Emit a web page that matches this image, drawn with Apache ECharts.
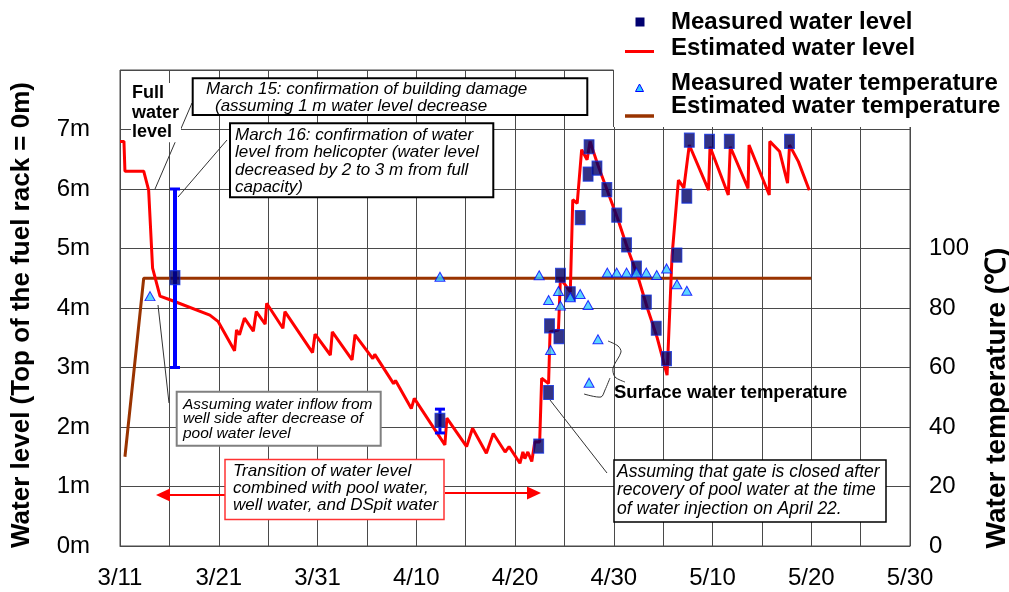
<!DOCTYPE html>
<html><head><meta charset="utf-8">
<script src="https://cdn.jsdelivr.net/npm/echarts@6/dist/echarts.min.js"></script>
<style>html,body{margin:0;padding:0;background:#fff}#c{width:1009px;height:592px}</style>
</head><body><div id="c"></div>
<script>
// x values are days after 3/11
const dayLabels = ['3/11','3/21','3/31','4/10','4/20','4/30','5/10','5/20','5/30'];
const estLevel = [
[0,6.8],[0.4,6.8],[0.5,6.3],[2.4,6.3],[2.9,5.98],[3.3,4.67],[4.05,4.2],[5.2,4.13],[9.1,3.88],[9.95,3.77],
[11.6,3.28],[11.8,3.63],[12.1,3.55],[12.6,3.83],[13.5,3.61],[13.8,3.94],[14.7,3.73],[14.85,4.08],[16.5,3.66],[16.7,3.94],
[19.5,3.25],[19.75,3.56],[21.3,3.21],[21.5,3.6],[23.5,3.13],[23.8,3.55],[25.6,3.15],[25.8,3.22],[27.7,2.73],[27.9,2.78],
[29.5,2.31],[29.8,2.48],[32.9,1.7],[33.1,2.15],[35.1,1.67],[35.7,1.98],[37.1,1.56],[37.8,1.89],[39.0,1.58],[39.4,1.67],
[40.5,1.39],[40.8,1.58],[41.0,1.47],[41.3,1.58],[41.7,1.42],[42.0,1.75],[42.5,1.75],[42.7,2.82],[43.4,2.73],[43.55,3.6],
[44.4,3.63],[44.6,4.5],[45.6,4.27],[45.85,5.82],[46.3,5.76],[46.75,6.66],[47.3,6.49],[47.6,6.8],[48.4,6.4],[49.4,5.95],
[50.4,5.5],[51.4,5.0],[52.4,4.55],[53.4,4.0],[54.4,3.5],[55.4,2.87],[55.9,4.87],[56.55,6.15],[57.1,6.02],[57.65,6.74],
[59.6,5.98],[59.75,6.71],[61.6,5.9],[61.8,6.71],[63.6,6.01],[63.7,6.74],[65.75,5.9],[65.8,6.8],[66.8,6.63],[67.6,6.1],
[67.8,6.74],[68.7,6.46],[69.8,5.98]
];
const measLevel = [
[5.57,4.51],[32.4,2.11],[42.4,1.68],[43.4,2.58],[43.5,3.7],[44.45,3.52],[44.6,4.55],[45.6,4.24],[46.6,5.52],[47.4,6.25],
[47.5,6.71],[48.3,6.35],[49.3,5.99],[50.3,5.56],[51.3,5.06],[52.3,4.67],[53.3,4.1],[54.3,3.66],[55.35,3.15],[56.4,4.89],
[57.4,5.88],[57.65,6.82],[59.7,6.8],[61.7,6.8],[67.8,6.8]
];
const levelRanges = [[5.57,3.0,6.0],[32.4,1.9,2.3]];
const measTemp = [
[3.04,84],[32.4,90.5],[42.45,91],[43.4,82.7],[43.6,65.9],[44.4,85.7],[44.6,80.8],[45.6,83.6],[46.6,84.7],[47.4,81.0],
[47.5,54.9],[48.4,69.5],[49.35,91.9],[50.3,91.9],[51.3,91.9],[52.3,91.9],[53.3,91.9],[54.35,91.1],[55.35,93.3],[56.4,88.0],
[57.4,85.8]
];
const estTemp = [[0.5,30],[2.4,90],[70,90]];

const FF = '"Liberation Sans", Arial, Helvetica, sans-serif';
const GRID = '#4a4a4a';
const chart = echarts.init(document.getElementById('c'), null, {renderer:'canvas'});

function line(x1,y1,x2,y2,color,w,z){return {type:'line',z:z||60,shape:{x1,y1,x2,y2},style:{stroke:color||'#333',lineWidth:w||1}};}
function txt(x,y,t,font,extra){return Object.assign({type:'text',z:70,x:x,y:y,style:Object.assign({text:t,font:font,fill:'#000',verticalAlign:'middle',align:'left'},extra||{})});}
function box(x,y,w,h,stroke,lw){return {type:'rect',z:65,shape:{x,y,width:w,height:h},style:{fill:'#fff',stroke:stroke,lineWidth:lw}};}

const IT17 = 'italic 17px '+FF;
const graphics = [
  // legend area
  {type:'rect',z:50,shape:{x:613.5,y:0,width:400,height:127},style:{fill:'#fff'}},
  line(613.5,70,613.5,127,GRID,1,51),
  {type:'rect',z:60,shape:{x:635.5,y:17.5,width:9,height:9},style:{fill:'#000070'}},
  txt(671,22,'Measured water level','bold 24px '+FF),
  line(625,51.5,654,51.5,'#ff0000',3),
  txt(671,48,'Estimated water level','bold 24px '+FF),
  {type:'polygon',z:60,shape:{points:[[639.5,84],[643.5,91.5],[635.5,91.5]]},style:{fill:'#33ccff',stroke:'#0000ff',lineWidth:1}},
  txt(671,83,'Measured water temperature','bold 24px '+FF),
  line(625,116,654,116,'#993300',3.5),
  txt(671,106,'Estimated water temperature','bold 24px '+FF),
  // full water level
  line(192,103,155,189,'#333',1,55),
  txt(131,83,'Full\nwater\nlevel','bold 18px '+FF,{verticalAlign:'top',lineHeight:19.75,backgroundColor:'#fff',padding:[0,2,0,1]}),
  line(133,141,179,141,'#000',1.5),
  // March 15
  box(192.7,78.3,394.6,36.7,'#000',2),
  txt(206,89.5,'March 15: confirmation of building damage',IT17),
  txt(215,106.5,'(assuming 1 m water level decrease',IT17),
  // March 16
  line(227,140,178,197,'#333',1,55),
  box(230,123.3,263.3,74,'#000',2),
  txt(235,126.3,'March 16: confirmation of water\nlevel from helicopter (water level\ndecreased by 2 to 3 m from full\ncapacity)',IT17,{verticalAlign:'top',lineHeight:17.4}),
  // inflow
  line(158,305,169,403,'#333',1,55),
  box(176.7,391.7,204,54,'#808080',2),
  txt(183,397,'Assuming water inflow from\nwell side after decrease of\npool water level','italic 15.5px '+FF,{verticalAlign:'top',lineHeight:14.5}),
  // transition
  box(225,459.5,219,60,'#ff3333',1.5),
  txt(233,462.5,'Transition of water level\ncombined with pool water,\nwell water, and DSpit water',IT17,{verticalAlign:'top',lineHeight:17.2}),
  line(225,495,168,495,'#ff0000',2),
  {type:'polygon',z:60,shape:{points:[[156,495],[170,488.5],[170,501.5]]},style:{fill:'#ff0000'}},
  line(445,493,529,493,'#ff0000',2),
  {type:'polygon',z:60,shape:{points:[[541,493],[527,486.5],[527,499.5]]},style:{fill:'#ff0000'}},
  // surface water temperature
  txt(614,393,'Surface water temperature','bold 18.5px '+FF),
  {type:'polyline',z:60,shape:{points:[[608,341],[618,346],[621,352],[613,368],[615,377],[625,382]],smooth:0.3},style:{stroke:'#333',lineWidth:1,fill:null}},
  {type:'polyline',z:60,shape:{points:[[610,378],[605,390],[601,397],[584,394]],smooth:0.3},style:{stroke:'#333',lineWidth:1,fill:null}},
  // gate
  line(550,400,607,473,'#333',1,55),
  box(614,460,272,62,'#000',1.5),
  txt(617,463,'Assuming that gate is closed after\nrecovery of pool water at the time\nof water injection on April 22.','italic 17.5px '+FF,{verticalAlign:'top',lineHeight:18.3}),
  // axis titles
  {type:'text',z:70,x:22,y:315,rotation:Math.PI/2,style:{text:'Water level (Top of the fuel rack = 0m)',font:'bold 26px '+FF,fill:'#000',align:'center',verticalAlign:'middle'}},
  {type:'text',z:70,x:997,y:398,rotation:Math.PI/2,style:{text:'Water temperature (\u2103)',font:'bold 28px '+FF,fill:'#000',align:'center',verticalAlign:'middle'}}
];

chart.setOption({
  animation:false,
  backgroundColor:'#fff',
  grid:{left:120,right:99,top:70,bottom:46,show:true,borderColor:GRID,borderWidth:1},
  xAxis:{type:'value',min:0,max:80,interval:5,
    axisLine:{show:true,lineStyle:{color:GRID,width:1}},axisTick:{show:false},
    splitLine:{show:true,lineStyle:{color:GRID,width:1}},
    axisLabel:{fontSize:24,color:'#000',fontFamily:FF,margin:20,
      formatter:v=>(v%10===0?dayLabels[v/10]:'')}},
  yAxis:[
    {type:'value',min:0,max:8,interval:1,position:'left',
     axisLine:{show:false},axisTick:{show:false},
     splitLine:{show:true,lineStyle:{color:GRID,width:1}},
     axisLabel:{fontSize:24,color:'#000',fontFamily:FF,margin:30,formatter:v=>(v<=7?v+'m':'')}},
    {type:'value',min:0,max:160,interval:20,position:'right',
     axisLine:{show:false},axisTick:{show:false},splitLine:{show:false},
     axisLabel:{fontSize:24,color:'#000',fontFamily:FF,margin:19,align:'left',formatter:v=>(v<=100?String(v):'')}}
  ],
  graphic:graphics,
  series:[
    {name:'Estimated water temperature',type:'line',yAxisIndex:1,data:estTemp,symbol:'none',z:2,
     lineStyle:{color:'#993300',width:3}},
    {name:'Estimated water level',type:'line',data:estLevel,symbol:'none',z:3,
     lineStyle:{color:'#ff0000',width:3}},
    {name:'Level range',type:'custom',z:4,data:levelRanges,
     renderItem:function(params,api){
       const x=api.value(0),lo=api.value(1),hi=api.value(2);
       const p1=api.coord([x,lo]),p2=api.coord([x,hi]);
       const w=params.dataIndex===0?4:3;
       return {type:'group',children:[
         {type:'line',shape:{x1:p1[0],y1:p1[1],x2:p2[0],y2:p2[1]},style:{stroke:'#0000ff',lineWidth:w}},
         {type:'line',shape:{x1:p1[0]-5,y1:p1[1],x2:p1[0]+5,y2:p1[1]},style:{stroke:'#0000ff',lineWidth:3}},
         {type:'line',shape:{x1:p2[0]-5,y1:p2[1],x2:p2[0]+5,y2:p2[1]},style:{stroke:'#0000ff',lineWidth:3}}
       ]};
     }},
    {name:'Measured water level',type:'scatter',data:measLevel,symbol:'rect',symbolSize:[10,14],z:5,
     itemStyle:{color:'#000066',borderColor:'#1030e0',borderWidth:1}},
    {name:'Measured water temperature',type:'scatter',yAxisIndex:1,data:measTemp,symbol:'triangle',symbolSize:[10,9],z:6,
     itemStyle:{color:'#33ccff',borderColor:'#0000ff',borderWidth:1}}
  ]
});
</script></body></html>
